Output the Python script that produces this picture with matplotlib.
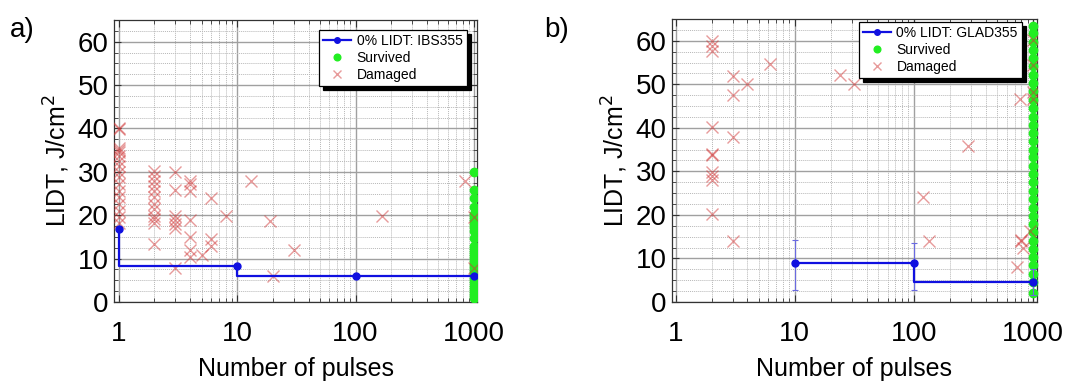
import matplotlib
matplotlib.use("Agg")
import matplotlib.pyplot as plt
from matplotlib.ticker import MultipleLocator, LogLocator, FixedLocator, NullFormatter, FixedFormatter

plt.rcParams['font.family'] = ['Liberation Sans', 'DejaVu Sans']

# ---------------- data: panel a (IBS355) ----------------
a_lidt_x = [1, 10, 100, 1000]
a_lidt_y = [16.8, 8.2, 6.0, 6.0]

a_surv_x = [1000] * 29
a_surv_y = [29.9, 25.8, 23.9, 21.8, 20.2, 19.5, 18.8, 18.0, 17.2, 16.4, 14.8,
            12.9, 12.2, 11.5, 10.8, 10.1, 9.4, 8.7, 8.0, 7.3, 6.6, 5.9, 5.2,
            4.5, 3.8, 3.1, 2.4, 1.7, 1.0]

a_dam_x = ([1] * 17 + [2] * 12 + [3] * 7 + [4] * 7 + [5] + [6] * 3 + [8]
           + [13, 19, 20, 30, 168, 840, 1000, 1000])
a_dam_y = ([40.2, 39.8, 35.6, 35.0, 34.5, 33.7, 32.5, 31.4, 30.0, 28.7, 27.2,
            25.6, 24.1, 22.5, 21.0, 19.5, 18.3]
           + [30.2, 29.1, 27.9, 26.8, 25.6, 24.1, 22.5, 21.4, 19.8, 19.1, 18.3, 13.3]
           + [30.0, 25.8, 19.8, 18.8, 17.9, 17.1, 7.9]
           + [27.9, 27.2, 25.7, 19.0, 15.0, 12.0, 10.3]
           + [10.8]
           + [23.9, 14.6, 12.8]
           + [19.8]
           + [27.8, 18.7, 6.0, 11.9, 19.8, 27.9, 19.5, 7.9])

# ---------------- data: panel b (GLAD355) ----------------
b_lidt_x = [10, 100, 1000]
b_lidt_y = [9.0, 9.0, 4.6]
b_err_lo = [6.3, 6.3, 3.0]
b_err_hi = [5.2, 4.5, 2.9]

b_surv_x = [1000] * 33
b_surv_y = [63.5, 61.7, 59.8, 57.8, 56.0, 54.1, 52.2, 50.2, 48.4, 46.5, 44.5,
            42.6, 40.7, 38.9, 36.9, 35.0, 33.2, 31.2, 29.3, 27.5, 25.5, 23.6,
            21.7, 19.8, 17.9, 16.0, 14.1, 12.2, 10.3, 8.4, 6.5, 4.6, 2.0]

b_dam_x = ([2] * 10 + [3] * 4 + [4, 6.2, 24, 31.6, 120, 135, 282, 778]
           + [800, 790, 829, 738, 944, 1000, 1000, 1000, 1000])
b_dam_y = ([60.0, 58.8, 57.7, 40.2, 34.1, 33.7, 29.8, 29.0, 28.0, 20.1]
           + [52.0, 47.6, 38.0, 14.0]
           + [50.1, 54.7, 52.2, 50.1, 24.1, 14.0, 35.9, 46.6]
           + [14.2, 14.0, 12.3, 8.1, 16.3, 60.2, 54.4, 48.2, 46.6])

fig = plt.figure(figsize=(10.67, 3.83), dpi=100)

ax_a = fig.add_axes([114 / 1067, 81 / 383, 363 / 1067, 282 / 383])
ax_b = fig.add_axes([672 / 1067, 81 / 383, 365 / 1067, 283 / 383])

dam_color = '#d03838'


def style(ax, xlim):
    ax.set_xscale('log')
    ax.set_xlim(*xlim)
    ax.set_ylim(0, 65)
    ax.xaxis.set_major_locator(FixedLocator([1, 10, 100, 1000]))
    ax.xaxis.set_major_formatter(FixedFormatter(['1', '10', '100', '1000']))
    ax.xaxis.set_minor_locator(LogLocator(base=10, subs=range(2, 10)))
    ax.xaxis.set_minor_formatter(NullFormatter())
    ax.yaxis.set_major_locator(MultipleLocator(10))
    ax.yaxis.set_minor_locator(MultipleLocator(2.5))
    ax.grid(True, which='major', color='#a0a0a0', lw=1.0, ls='-', zorder=0)
    ax.grid(True, which='minor', color='#b8b8b8', lw=0.7, ls=(0, (1, 1)), zorder=0)
    ax.set_axisbelow(True)
    ax.tick_params(which='both', direction='in', top=True, right=True,
                   color='#333333')
    ax.tick_params(which='major', length=5, width=0.8, labelsize=20)
    ax.tick_params(axis='x', which='major', pad=14)
    ax.tick_params(axis='y', which='major', pad=4)
    ax.tick_params(which='minor', length=3, width=0.6)
    for s in ax.spines.values():
        s.set_color('#333333')
        s.set_linewidth(0.9)
    ax.set_xlabel('Number of pulses', fontsize=18, labelpad=7)
    ax.set_ylabel('LIDT, J/cm$^2$', fontsize=18, labelpad=4)


# panel a
style(ax_a, (0.91, 1060))
ax_a.plot(a_lidt_x, a_lidt_y, drawstyle='steps-pre', color='#1010e0', lw=1.6,
          marker='o', ms=5, zorder=5, label='0% LIDT: IBS355')
ax_a.plot(a_surv_x, a_surv_y, ls='none', marker='o', ms=6, color='#22ee22',
          mec='#22ee22', zorder=3, label='Survived')
ax_a.plot(a_dam_x, a_dam_y, ls='none', marker='x', ms=8, mew=1.0,
          color=dam_color, alpha=0.5, zorder=4, label='Damaged')

# panel b
style(ax_b, (0.93, 1080))
ax_b.errorbar(b_lidt_x, b_lidt_y, yerr=[b_err_lo, b_err_hi], fmt='none',
              ecolor='#6a6ae0', elinewidth=0.8, capsize=2, capthick=0.8, zorder=5)
ax_b.plot(b_lidt_x, b_lidt_y, drawstyle='steps-pre', color='#1010e0', lw=1.6,
          marker='o', ms=5, zorder=6, label='0% LIDT: GLAD355')
ax_b.plot(b_surv_x, b_surv_y, ls='none', marker='o', ms=6, color='#22ee22',
          mec='#22ee22', zorder=3, label='Survived', clip_on=False)
ax_b.plot(b_dam_x, b_dam_y, ls='none', marker='x', ms=8, mew=1.0,
          color=dam_color, alpha=0.5, zorder=4, label='Damaged')

shadow = {'ox': 3, 'oy': -3, 'facecolor': 'black', 'edgecolor': 'black', 'alpha': 1}
for ax, anchor in ((ax_a, (0.972, 0.965)), (ax_b, (0.959, 0.989))):
    h, l = ax.get_legend_handles_labels()
    leg = ax.legend(h, l, loc='upper right', bbox_to_anchor=anchor,
                    borderaxespad=0, fontsize=10, fancybox=False,
                    framealpha=1, edgecolor='black', shadow=shadow,
                    labelspacing=0.2, handlelength=2.0, handletextpad=0.4,
                    borderpad=0.3, markerscale=0.8)
    leg.get_frame().set_linewidth(0.9)
    leg.set_zorder(10)

fig.text(22 / 1067, 1 - 30 / 383, 'a)', fontsize=20, ha='center', va='center')
fig.text(557 / 1067, 1 - 30 / 383, 'b)', fontsize=20, ha='center', va='center')

fig.savefig('out.png', dpi=100)
